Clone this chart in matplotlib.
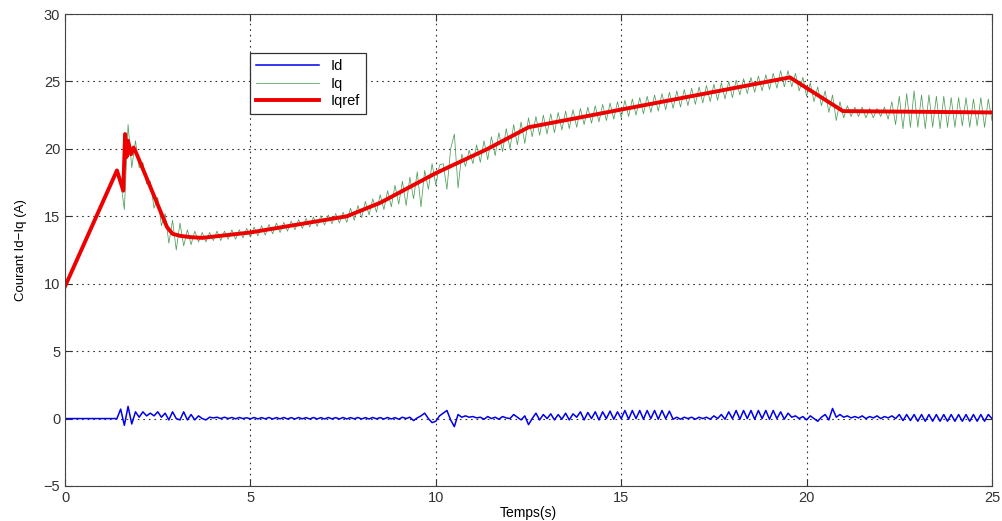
import numpy as np
import matplotlib
matplotlib.use("Agg")
import matplotlib.pyplot as plt

plt.rcParams['font.family'] = ['Liberation Sans', 'DejaVu Sans']

# Iqref : reference current, read at its break points
t_ref = [0.0, 1.4, 1.57, 1.62, 1.66, 1.70, 1.78, 1.85, 1.95, 2.75, 2.9, 3.1, 3.4, 3.7,
         5.0, 7.6, 8.5, 10.0, 11.4, 12.5, 14.4, 19.55, 20.98, 25.0]
iq_ref = [9.8, 18.4, 16.9, 21.1, 19.4, 20.6, 19.6, 20.1, 19.5, 14.2, 13.7, 13.55, 13.45, 13.4,
          13.8, 15.0, 16.0, 18.2, 20.0, 21.6, 22.6, 25.3, 22.8, 22.7]

# Iq and Id : measured currents, one value every 0.1 s from 0 to 25 s
dt = 0.1
iq = [
    9.8, 10.4, 11.0, 11.6, 12.3, 12.9, 13.5, 14.1, 14.7, 15.3,
    15.9, 16.6, 17.2, 17.8, 18.4, 17.6, 15.5, 21.8, 18.6, 20.6,
    18.6, 19.0, 17.4, 17.6, 15.6, 16.4, 14.3, 15.2, 13.0, 14.7,
    12.5, 14.5, 12.8, 14.0, 12.9, 13.9, 13.1, 13.8, 13.1, 13.8,
    13.2, 13.9, 13.2, 13.9, 13.3, 14.0, 13.3, 14.0, 13.4, 14.1,
    13.45, 14.2, 13.55, 14.3, 13.6, 14.4, 13.7, 14.5, 13.8, 14.55,
    13.9, 14.65, 14.0, 14.75, 14.1, 14.85, 14.2, 14.95, 14.25, 15.05,
    14.35, 15.1, 14.45, 15.2, 14.5, 15.3, 14.55, 15.6, 14.7, 15.8,
    14.9, 16.1, 15.1, 16.3, 15.3, 16.6, 15.5, 16.9, 15.7, 17.3,
    15.9, 17.6, 15.8, 17.9, 16.3, 18.3, 15.7, 18.4, 17.0, 18.9,
    17.3, 18.8, 18.9, 17.0, 20.0, 21.1, 17.1, 19.6, 18.7, 19.9,
    18.9, 20.3, 19.0, 20.6, 19.2, 20.9, 19.5, 21.2, 19.8, 21.5,
    20.0, 21.8, 20.3, 22.0, 20.4, 22.3, 20.9, 22.4, 21.0, 22.5,
    21.1, 22.6, 21.2, 22.7, 21.4, 22.8, 21.5, 22.9, 21.6, 23.0,
    21.8, 23.1, 21.9, 23.2, 22.0, 23.3, 22.1, 23.4, 22.2, 23.5,
    22.3, 23.6, 22.4, 23.7, 22.5, 23.8, 22.6, 23.9, 22.7, 24.0,
    22.8, 24.1, 22.9, 24.2, 23.0, 24.3, 23.1, 24.4, 23.2, 24.5,
    23.3, 24.6, 23.4, 24.7, 23.5, 24.8, 23.6, 24.9, 23.7, 25.0,
    23.8, 25.1, 24.0, 25.2, 24.1, 25.3, 24.2, 25.4, 24.3, 25.5,
    24.4, 25.6, 24.5, 25.8, 24.6, 25.8, 24.6, 25.6, 24.3, 25.3,
    23.9, 24.9, 23.5, 24.6, 23.2, 24.3, 22.7, 24.0, 22.1, 23.5,
    22.3, 23.2, 22.4, 23.1, 22.4, 23.1, 22.3, 23.0, 22.3, 23.0,
    22.4, 23.1, 22.2, 23.5, 21.8, 23.9, 21.5, 24.1, 21.6, 24.3,
    21.6, 24.0, 21.5, 24.0, 21.6, 23.9, 21.5, 23.9, 21.6, 23.8,
    21.6, 23.8, 21.7, 23.8, 21.6, 23.7, 21.7, 23.8, 21.6, 23.7,
    22.1,
]
id_ = [
    0.0, 0.0, 0.0, 0.0, 0.0, 0.0, 0.0, 0.0, 0.0, 0.0,
    0.0, 0.0, 0.0, 0.0, 0.0, 0.7, -0.5, 0.9, -0.4, 0.5,
    0.1, 0.5, 0.2, 0.4, 0.2, 0.5, 0.1, 0.4, -0.1, 0.5,
    0.0, -0.1, 0.5, -0.1, 0.3, -0.1, 0.2, 0.0, -0.1, 0.1,
    0.05, 0.1, 0.0, 0.1, 0.0, 0.08, -0.02, 0.08, 0.0, 0.06,
    -0.02, 0.08, -0.03, 0.07, -0.02, 0.08, -0.03, 0.07, -0.02, 0.08,
    -0.03, 0.07, -0.03, 0.08, -0.02, 0.07, -0.03, 0.08, -0.03, 0.07,
    -0.03, 0.08, -0.02, 0.07, -0.03, 0.08, -0.03, 0.07, -0.02, 0.08,
    -0.03, 0.07, -0.03, 0.08, -0.02, 0.07, -0.03, 0.08, -0.03, 0.07,
    -0.05, 0.1, 0.0, 0.1, -0.15, 0.05, 0.2, 0.4, 0.0, -0.3,
    -0.2, 0.2, 0.4, 0.6, -0.1, -0.6, 0.3, 0.1, 0.2, 0.1,
    0.15, 0.05, 0.1, -0.05, 0.15, 0.0, 0.1, -0.05, 0.15, 0.05,
    0.0, 0.3, 0.1, -0.1, 0.2, -0.45, 0.0, 0.4, -0.1, 0.3,
    0.0, 0.35, -0.1, 0.3, -0.05, 0.4, -0.1, 0.35, 0.1, 0.5,
    -0.1, 0.45, 0.0, 0.5, -0.1, 0.5, 0.0, 0.55, -0.05, 0.5,
    0.0, 0.6, -0.05, 0.6, 0.0, 0.6, -0.05, 0.6, 0.0, 0.6,
    -0.05, 0.6, 0.0, 0.55, -0.05, 0.1, -0.05, 0.1, 0.0, 0.1,
    -0.05, 0.1, 0.0, 0.1, -0.05, 0.2, 0.0, 0.3, -0.05, 0.5,
    0.0, 0.6, -0.05, 0.6, 0.0, 0.6, -0.05, 0.6, 0.0, 0.6,
    -0.05, 0.6, 0.0, 0.5, -0.05, 0.4, 0.1, 0.2, 0.0, 0.15,
    -0.1, 0.2, 0.0, -0.2, 0.1, 0.3, -0.1, 0.75, 0.1, 0.3,
    0.1, 0.2, 0.05, 0.15, 0.05, 0.2, 0.0, 0.15, 0.05, 0.2,
    0.0, 0.15, 0.05, 0.2, 0.0, 0.3, -0.15, 0.3, -0.15, 0.3,
    -0.2, 0.3, -0.2, 0.3, -0.2, 0.3, -0.2, 0.3, -0.2, 0.3,
    -0.2, 0.3, -0.2, 0.3, -0.2, 0.3, -0.2, 0.3, -0.2, 0.3,
    0.0,
]

t = np.arange(len(iq)) * dt

fig = plt.figure(figsize=(10.02, 5.21), dpi=100)
ax = fig.add_axes([0.0649, 0.0672, 0.9251, 0.9059])

ax.plot(t, id_, color='#0000ee', lw=1.1, label='Id')
ax.plot(t, iq, color='#4e9e58', lw=0.55, label='Iq')
ax.plot(t_ref, iq_ref, color='#ee0000', lw=2.8, label='Iqref')

ax.set_xlim(0, 25)
ax.set_ylim(-5, 30)
ax.set_xticks(np.arange(0, 26, 5))
ax.set_yticks(np.arange(-5, 31, 5))
ax.grid(True, color='#333333', linestyle=(0, (1.5, 3.5)), linewidth=0.8)
ax.tick_params(direction='in', top=True, right=True, length=5,
               labelsize=10.5, labelcolor='#333333', color='#333333')
for s in ax.spines.values():
    s.set_color('#444444')

ax.set_xlabel('Temps(s)', fontsize=10, labelpad=1)
ax.set_ylabel('Courant Id\u2212Iq (A)', fontsize=9.5, labelpad=12)

leg = ax.legend(loc='upper left', bbox_to_anchor=(0.2, 0.917), fontsize=10.5,
                handlelength=4.3, fancybox=False, framealpha=1, borderaxespad=0,
                edgecolor='#333333', borderpad=0.4, labelspacing=0.25)
leg.get_frame().set_linewidth(0.9)

fig.savefig('out.png', dpi=100)
